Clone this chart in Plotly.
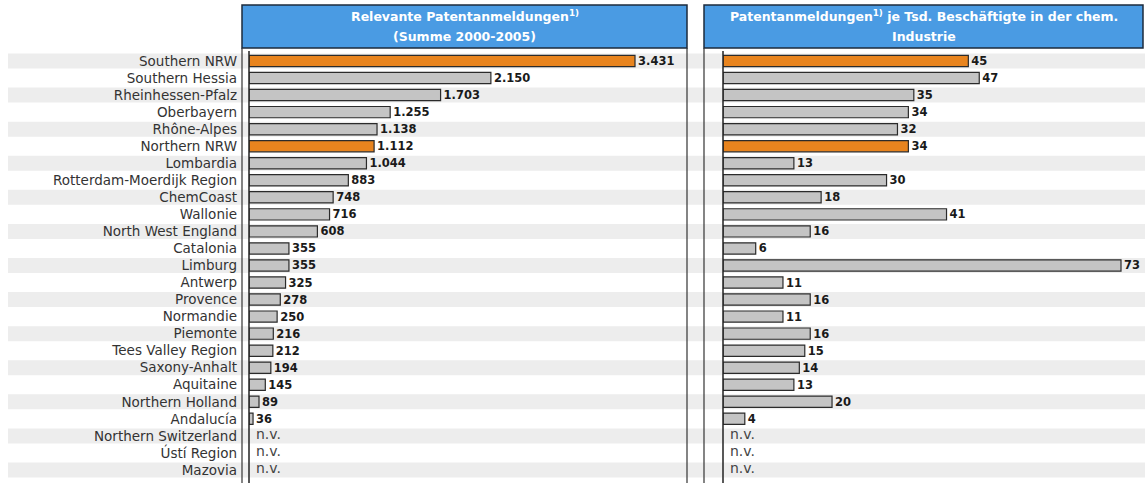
import plotly.graph_objects as go

W, H = 1145, 483

categories = [
    "Southern NRW", "Southern Hessia", "Rheinhessen-Pfalz", "Oberbayern", "Rhône-Alpes",
    "Northern NRW", "Lombardia", "Rotterdam-Moerdijk Region", "ChemCoast", "Wallonie",
    "North West England", "Catalonia", "Limburg", "Antwerp", "Provence", "Normandie",
    "Piemonte", "Tees Valley Region", "Saxony-Anhalt", "Aquitaine", "Northern Holland",
    "Andalucía", "Northern Switzerland", "Ústí Region", "Mazovia",
]
patents = [3431, 2150, 1703, 1255, 1138, 1112, 1044, 883, 748, 716, 608, 355, 355,
           325, 278, 250, 216, 212, 194, 145, 89, 36, None, None, None]
per_employee = [45, 47, 35, 34, 32, 34, 13, 30, 18, 41, 16, 6, 73, 11, 16, 11, 16,
                15, 14, 13, 20, 4, None, None, None]
highlight = ["Southern NRW", "Northern NRW"]

title_left = ["Relevante Patentanmeldungen<sup>1)</sup>", "(Summe 2000-2005)"]
title_right = ["Patentanmeldungen<sup>1)</sup> je Tsd. Beschäftigte in der chem.", "Industrie"]

ORANGE = "#E8841E"
GREY = "#C4C4C4"
EDGE = "#2b2b2b"
STRIPE = "#EDEDED"
HEAD = "#4A9BE3"
FONT = "DejaVu Sans"

n = len(categories)
ypos = list(range(n))
colors = [ORANGE if c in highlight else GREY for c in categories]


def de(v):
    return f"{v:,}".replace(",", ".")


def px(x):
    return x / W


def py(y):
    return 1 - y / H


# geometry (pixels)
ROW0, ROWH = 61, 17.04
TOP = 52
left_x0, left_x1 = 249, 686
right_x0, right_x1 = 723, 1143
left_scale = 3431 / (635 - 249)
right_scale = 73 / (1121 - 723)

fig = go.Figure()
for vals, xa in [(patents, "x"), (per_employee, "x2")]:
    idx = [i for i, v in enumerate(vals) if v is not None]
    fig.add_trace(go.Bar(
        x=[vals[i] for i in idx], y=[ypos[i] for i in idx], orientation="h",
        marker=dict(color=[colors[i] for i in idx], line=dict(color=EDGE, width=1.2)),
        text=[de(vals[i]) for i in idx], textposition="outside", cliponaxis=False, constraintext="none",
        textfont=dict(family=FONT, size=11.5, color="#1a1a1a", weight="bold"),
        width=0.66, xaxis=xa, yaxis="y", hoverinfo="skip",
    ))

y_top = (TOP - ROW0) / ROWH
y_bot = (H - ROW0) / ROWH

shapes = []
# stripes
for i in range(0, n, 2):
    shapes.append(dict(type="rect", xref="paper", yref="y", x0=px(8), x1=1, y0=i - 0.44, y1=i + 0.44,
                       fillcolor=STRIPE, line=dict(width=0), layer="below"))
# header boxes
for x0, x1 in [(242, 687), (704, 1143)]:
    shapes.append(dict(type="rect", xref="paper", yref="paper", x0=px(x0), x1=px(x1), y0=py(48), y1=py(5),
                       fillcolor=HEAD, line=dict(color="#1d2b3d", width=1.5)))
# panel borders
for x in [242, 687, 704]:
    shapes.append(dict(type="line", xref="paper", yref="paper", x0=px(x), x1=px(x), y0=0, y1=py(48),
                       line=dict(color="#333333", width=1.2)))
# axis lines at the bar bases
for x in [left_x0, right_x0]:
    shapes.append(dict(type="line", xref="paper", yref="paper", x0=px(x), x1=px(x), y0=0, y1=py(TOP - 1),
                       line=dict(color="#222", width=1.5)))

annotations = []
for lines, (x0, x1) in [(title_left, (242, 687)), (title_right, (704, 1143))]:
    for k, line in enumerate(lines):
        annotations.append(dict(
            text=line, xref="paper", yref="paper", x=px((x0 + x1) / 2), y=py(16 + 20 * k),
            xanchor="center", yanchor="middle", showarrow=False,
            font=dict(family=FONT, size=12.5, color="white", weight="bold")))
for i, (a, b) in enumerate(zip(patents, per_employee)):
    for v, xa in [(a, "x"), (b, "x2")]:
        if v is None:
            annotations.append(dict(text="n.v.", xref=xa, yref="y", x=0, y=i - 0.12, xanchor="left",
                                    yanchor="middle", xshift=5, showarrow=False,
                                    font=dict(family=FONT, size=14, color="#444")))

fig.update_layout(
    width=W, height=H, margin=dict(l=0, r=0, t=0, b=0),
    paper_bgcolor="white", plot_bgcolor="rgba(0,0,0,0)",
    showlegend=False, barmode="overlay",
    font=dict(family=FONT, color="#333"),
    xaxis=dict(domain=[px(left_x0), px(left_x1)], range=[0, (left_x1 - left_x0) * left_scale],
               showgrid=False, zeroline=False, showticklabels=False, showline=False),
    xaxis2=dict(domain=[px(right_x0), px(right_x1)], range=[0, (right_x1 - right_x0) * right_scale],
                showgrid=False, zeroline=False, showticklabels=False, showline=False),
    yaxis=dict(domain=[0, py(TOP)], range=[y_bot, y_top], tickvals=ypos, ticktext=categories,
               showgrid=False, zeroline=False, ticks="", ticklabelstandoff=11,
               tickfont=dict(family=FONT, size=13.5, color="#333")),
    shapes=shapes, annotations=annotations,
)

fig.write_html("out.html")
